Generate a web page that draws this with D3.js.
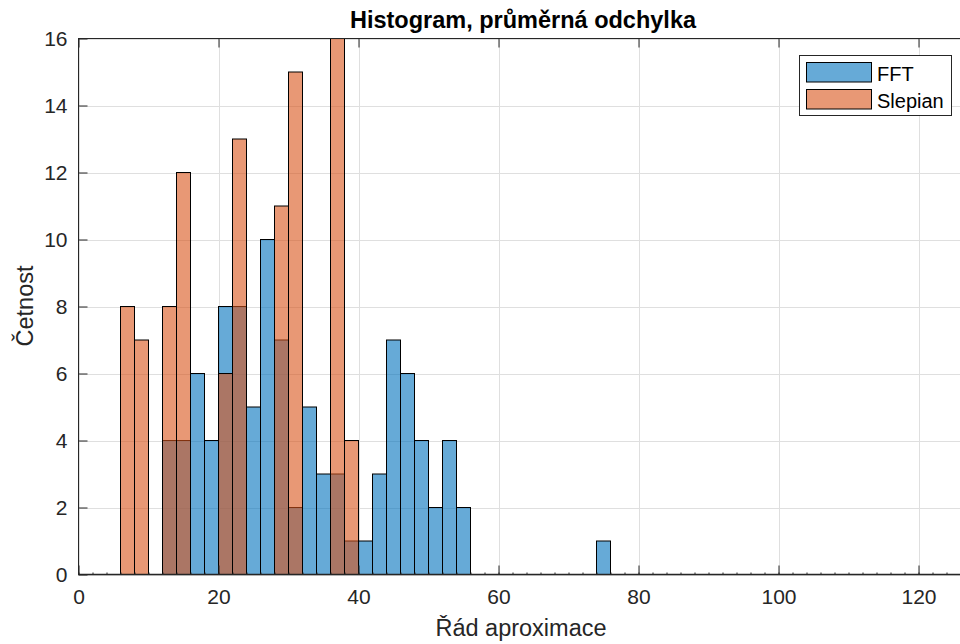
<!DOCTYPE html>
<html>
<head>
<meta charset="utf-8">
<script src="https://cdn.jsdelivr.net/npm/d3@7/dist/d3.min.js"></script>
<style>
  html, body { margin: 0; padding: 0; background: #fff; overflow: hidden; }
  svg { display: block; font-family: "Liberation Sans", Arial, Helvetica, sans-serif; }
</style>
</head>
<body>
<svg id="chart" width="960" height="644"></svg>
<script>
// Histogram bins: width 2, counts per bin starting at the given left edge
const binWidth = 2;
const fftStart = 12;
const fftCounts = [4, 4, 6, 4, 8, 8, 5, 10, 7, 2, 5, 3, 3, 1, 1, 3, 7, 6, 4, 2, 4, 2,
                   0, 0, 0, 0, 0, 0, 0, 0, 0, 1];
const slepianStart = 0;
const slepianCounts = [0, 0, 0, 8, 7, 0, 8, 12, 0, 0, 6, 13, 0, 0, 11, 15, 0, 0, 16, 4];

const seriesNames = ["FFT", "Slepian"];
const seriesColors = ["#0072BD", "#D95319"];
const xTicks = [0, 20, 40, 60, 80, 100, 120];
const yTicks = [0, 2, 4, 6, 8, 10, 12, 14, 16];

const titleText = "Histogram, průměrná odchylka";
const xLabel = "Řád aproximace";
const yLabel = "Četnost";

const svg = d3.select("#chart");
const plotLeft = 78.5, plotTop = 38.5, plotBottom = 574.5;
const x = d3.scaleLinear().domain([0, 127]).range([plotLeft, plotLeft + 127 * 7]);
const y = d3.scaleLinear().domain([0, 16]).range([plotBottom, plotTop]);
const plotRight = x.range()[1];
const axisColor = "#262626";

// grid
const grid = svg.append("g");
grid.selectAll("line.gx").data(xTicks).join("line")
  .attr("x1", d => Math.round(x(d)) + 0.5).attr("x2", d => Math.round(x(d)) + 0.5)
  .attr("y1", plotTop).attr("y2", plotBottom)
  .attr("stroke", "#dfdfdf").attr("stroke-width", 1);
grid.selectAll("line.gy").data(yTicks).join("line")
  .attr("y1", d => Math.round(y(d)) + 0.5).attr("y2", d => Math.round(y(d)) + 0.5)
  .attr("x1", plotLeft).attr("x2", plotRight)
  .attr("stroke", "#dfdfdf").attr("stroke-width", 1);

// bars
function toBins(start, counts) {
  return counts.map((c, i) => ({ x0: start + i * binWidth, x1: start + (i + 1) * binWidth, c }));
}
const series = [toBins(fftStart, fftCounts), toBins(slepianStart, slepianCounts)];
series.forEach((bins, si) => {
  svg.append("g").selectAll("rect").data(bins).join("rect")
    .attr("x", d => x(d.x0))
    .attr("width", d => x(d.x1) - x(d.x0))
    .attr("y", d => y(d.c))
    .attr("height", d => y(0) - y(d.c))
    .attr("fill", seriesColors[si]).attr("fill-opacity", 0.6)
    .attr("stroke", "#000").attr("stroke-width", 1);
});

// axes box
const axes = svg.append("g");
axes.append("g").attr("transform", `translate(0,${plotBottom})`)
  .call(d3.axisBottom(x).tickValues(xTicks).tickSize(-9).tickPadding(15).tickFormat(d3.format("d")))
  .call(g => g.select(".domain").remove());
axes.append("g").attr("transform", `translate(0,${plotTop})`)
  .call(d3.axisTop(x).tickValues(xTicks).tickSize(-9).tickFormat(""))
  .call(g => g.select(".domain").remove());
axes.append("g").attr("transform", `translate(${plotLeft},0)`)
  .call(d3.axisLeft(y).tickValues(yTicks).tickSize(-9).tickPadding(11).tickFormat(d3.format("d")))
  .call(g => g.select(".domain").remove());
// small bin-edge marks along the baseline
axes.append("g").attr("transform", `translate(0,${plotBottom})`)
  .call(d3.axisBottom(x).tickValues(d3.range(0, 128, binWidth)).tickSize(-2).tickFormat(""))
  .call(g => g.select(".domain").remove());
axes.selectAll(".tick line").attr("stroke", axisColor);
axes.selectAll(".tick text").attr("fill", axisColor).attr("font-size", 21)
  .attr("font-family", "Liberation Sans, Arial, sans-serif");
axes.append("rect").attr("x", plotLeft).attr("y", plotTop)
  .attr("width", plotRight - plotLeft).attr("height", plotBottom - plotTop)
  .attr("fill", "none").attr("stroke", axisColor).attr("stroke-width", 1);
axes.append("line").attr("x1", plotLeft).attr("x2", plotRight).attr("y1", plotBottom).attr("y2", plotBottom)
  .attr("stroke", axisColor).attr("stroke-width", 1.5);

// labels
const cx = (plotLeft + plotRight) / 2;
svg.append("text").attr("x", cx).attr("y", 28).attr("text-anchor", "middle")
  .attr("font-size", 23.5).attr("font-weight", "bold").attr("fill", "#000").text(titleText);
svg.append("text").attr("x", cx - 2).attr("y", 636).attr("text-anchor", "middle")
  .attr("font-size", 23.5).attr("fill", axisColor).text(xLabel);
svg.append("text").attr("transform", "translate(33,306) rotate(-90)").attr("text-anchor", "middle")
  .attr("font-size", 23.5).attr("fill", axisColor).text(yLabel);

// legend
const lg = svg.append("g");
lg.append("rect").attr("x", 799.5).attr("y", 55.5).attr("width", 152).attr("height", 60)
  .attr("fill", "#fff").attr("stroke", axisColor).attr("stroke-width", 1);
seriesNames.forEach((name, i) => {
  const yy = 62.5 + i * 27;
  lg.append("rect").attr("x", 806.5).attr("y", yy).attr("width", 65).attr("height", 19.5)
    .attr("fill", seriesColors[i]).attr("fill-opacity", 0.6).attr("stroke", "#000").attr("stroke-width", 1);
  lg.append("text").attr("x", 877).attr("y", yy + 18).attr("font-size", 20)
    .attr("fill", "#000").text(name);
});
</script>
</body>
</html>
